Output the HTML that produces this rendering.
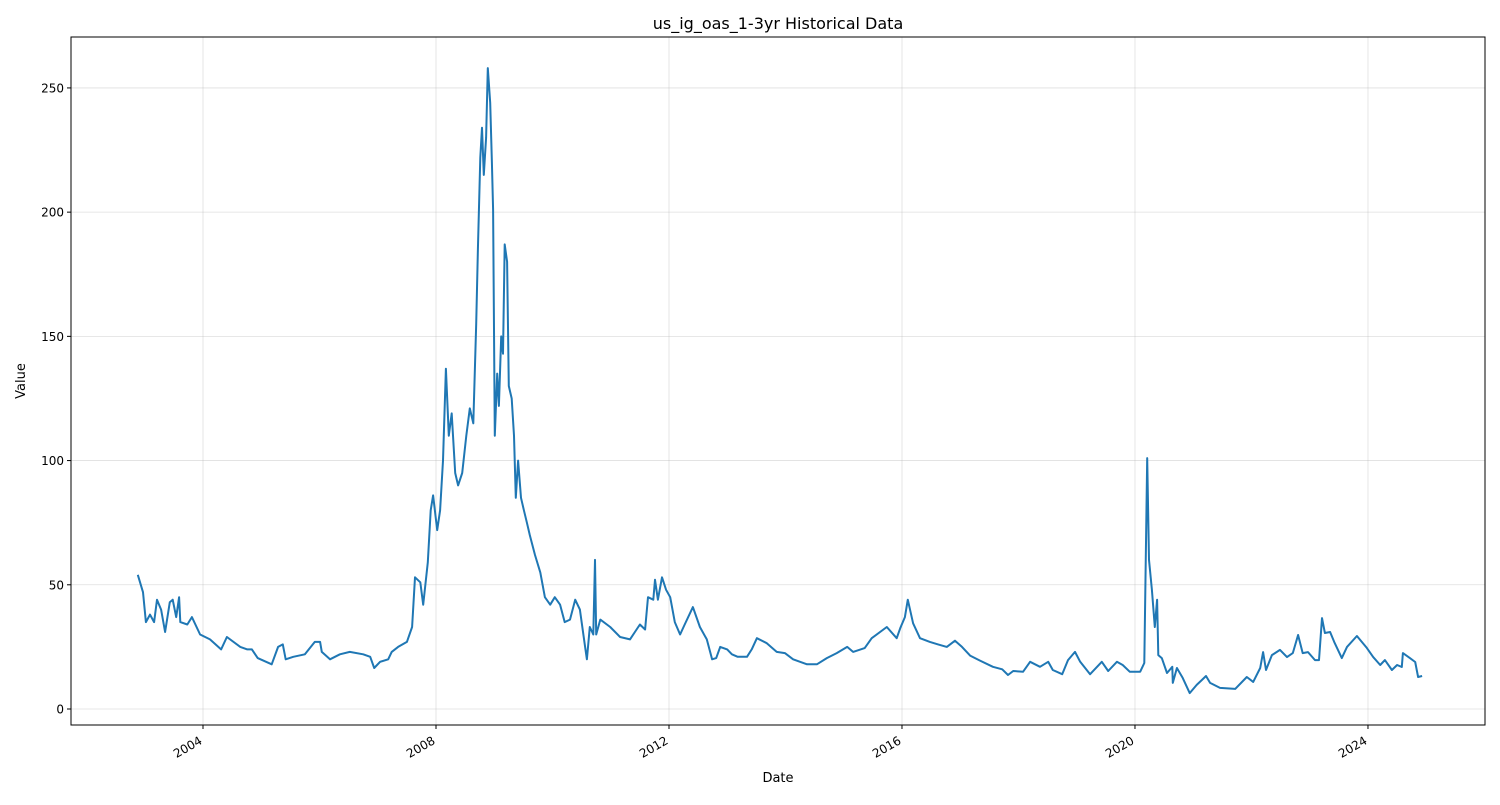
<!DOCTYPE html>
<html><head><meta charset="utf-8"><style>
body{margin:0;background:#fff;font-family:"Liberation Sans","DejaVu Sans",sans-serif;}
svg text{font-family:"DejaVu Sans","Liberation Sans",sans-serif;}
</style></head><body>
<svg id="chart" width="1500" height="800" xmlns="http://www.w3.org/2000/svg">
<rect width="1500" height="800" fill="#fff"/>
<text x="778" y="29" font-size="16" text-anchor="middle">us_ig_oas_1-3yr Historical Data</text>
<text x="778" y="782" font-size="13" text-anchor="middle">Date</text>
<text x="25" y="381" font-size="13" text-anchor="middle" transform="rotate(-90 25 381)">Value</text>
<g id="grid"></g>
<g id="series"></g>
<rect x="71" y="37" width="1414" height="688" fill="none" stroke="#000" stroke-width="1"/>
<g id="ticks"></g>
</svg>
<script>
const dates=[2002.88,2002.97,2003.02,2003.09,2003.16,2003.21,2003.28,2003.35,2003.43,2003.48,2003.54,2003.59,2003.61,2003.73,2003.81,2003.95,2004.12,2004.31,2004.41,2004.64,2004.76,2004.84,2004.94,2005.18,2005.29,2005.37,2005.42,2005.55,2005.75,2005.92,2006.01,2006.04,2006.18,2006.35,2006.52,2006.75,2006.87,2006.94,2007.04,2007.18,2007.24,2007.35,2007.50,2007.59,2007.64,2007.73,2007.78,2007.86,
2007.91,2007.95,2008.02,2008.07,2008.12,2008.17,2008.22,2008.27,2008.33,2008.38,2008.45,2008.52,2008.58,2008.64,2008.69,2008.72,2008.76,2008.79,2008.82,2008.86,2008.89,2008.93,2008.96,2008.98,2009.01,2009.05,2009.08,2009.12,2009.15,2009.18,2009.22,2009.25,2009.30,2009.34,2009.37,2009.41,2009.46,2009.51,2009.56,2009.61,2009.70,2009.79,2009.87,2009.96,2010.04,2010.13,2010.21,2010.30,2010.39,2010.47,2010.56,2010.59,2010.64,2010.70,2010.73,2010.75,2010.82,2010.99,2011.16,2011.33,2011.50,2011.59,2011.64,2011.73,2011.76,2011.81,2011.88,2011.95,2012.02,2012.10,
2012.19,2012.27,2012.41,2012.53,2012.65,2012.74,2012.81,2012.88,2013.00,2013.08,2013.18,2013.34,2013.42,2013.51,2013.68,2013.85,2013.99,2014.13,2014.37,2014.54,2014.71,2014.88,2015.06,2015.16,2015.36,2015.48,2015.74,2015.91,2015.97,2016.05,2016.10,2016.19,2016.31,2016.48,2016.62,2016.77,2016.91,2017.03,2017.17,2017.34,2017.56,2017.72,2017.82,2017.91,2018.08,2018.20,2018.37,2018.51,2018.59,2018.75,2018.85,2018.97,2019.06,2019.23,2019.43,2019.54,2019.69,2019.79,2019.91,
2020.09,2020.16,2020.21,2020.24,2020.29,2020.34,2020.38,2020.40,2020.46,2020.55,2020.64,2020.65,2020.72,2020.82,2020.94,2021.06,2021.15,2021.22,2021.29,2021.46,2021.72,2021.92,2022.03,2022.15,2022.20,2022.25,2022.35,2022.49,2022.61,2022.71,2022.80,2022.88,2022.97,2023.09,2023.16,2023.21,2023.26,2023.35,2023.42,2023.55,2023.64,2023.81,2023.98,2024.09,2024.21,2024.29,2024.41,2024.50,2024.58,2024.60,2024.72,2024.81,2024.86,2024.93];
const values=[54,47,35,38,35,44,40,31,43,44,37,45,35,34,37,30,28,24,29,25,24,24,20.5,18,25,26,20,21,22,27,27,23,20,22,23,22,21,16.5,19,20,23,25,27,33,53,51,42,59,
80,86,72,80,100,137,110,119,95,90,95,110,121,115,155,185,222,234,215,230,258,244,220,201,110,135,122,150,143,187,180,130,125,110,85,100,85,80,75,70,62,55,45,42,45,42,35,36,44,40,25,20,33,30,60,30,36,33,29,28,34,32,45,44,52,44,53,48,45,35,
30,34,41,33,28,20,20.5,25,24,22,21,21,24,28.5,26.5,23,22.5,20,18,18,20.5,22.5,25,23,24.5,28.5,33,28.5,32.5,37,44,34.5,28.5,27,26,25,27.5,25,21.5,19.5,17,16,13.7,15.3,15,19,17,19,15.7,14,19.7,23,19,14,19,15.3,19,17.7,15,
15,18.5,101,60,48,33,44,21.7,20.5,14.5,17,10.5,16.5,12.5,6.4,9.7,11.7,13.3,10.5,8.5,8.1,12.9,10.9,16.5,22.9,15.7,21.7,23.8,20.9,22.5,29.8,22.5,22.9,19.7,19.7,36.6,30.6,31,27,20.5,25,29.4,24.6,20.9,17.7,19.7,15.7,17.7,16.9,22.5,20.5,18.9,12.9,13.3];
const xTicks=[2004,2008,2012,2016,2020,2024];
const xTickLabels=["2004","2008","2012","2016","2020","2024"];
const yTicks=[0,50,100,150,200,250];
const yTickLabels=["0","50","100","150","200","250"];
const L=71,R=1485,T=37,B=725;
const X0=2001.734,X1=2026.009,Y0=-6.44,Y1=270.5;
const xs=v=>L+(v-X0)/(X1-X0)*(R-L);
const ys=v=>B-(v-Y0)/(Y1-Y0)*(B-T);
const NS="http://www.w3.org/2000/svg";
const grid=document.getElementById('grid'),ticks=document.getElementById('ticks'),series=document.getElementById('series');
function mk(tag,attrs){const e=document.createElementNS(NS,tag);for(const k in attrs)e.setAttribute(k,attrs[k]);return e;}
xTicks.forEach((t,i)=>{
  const x=xs(t);
  const g=mk('line',{x1:x,x2:x,y1:T,y2:B,stroke:'#b0b0b0','stroke-opacity':0.4,'stroke-width':0.8});
  
  
  grid.appendChild(g);
  const tk=mk('line',{x1:x,x2:x,y1:B,y2:B+4,stroke:'#000'});
  
  
  ticks.appendChild(tk);
  const tx=mk('text',{x:x,y:B+18,'font-size':12,'text-anchor':'end',transform:`rotate(-30 ${x} ${B+18})`});
  tx.textContent=xTickLabels[i];
  
  
  ticks.appendChild(tx);
});
yTicks.forEach((t,i)=>{
  const y=ys(t);
  const g=mk('line',{x1:L,x2:R,y1:y,y2:y,stroke:'#b0b0b0','stroke-opacity':0.4,'stroke-width':0.8});
  
  
  grid.appendChild(g);
  const tk=mk('line',{x1:L-4,x2:L,y1:y,y2:y,stroke:'#000'});
  
  
  ticks.appendChild(tk);
  const tx=mk('text',{x:L-7,y:y+4.5,'font-size':12,'text-anchor':'end'});
  tx.textContent=yTickLabels[i];
  
  
  ticks.appendChild(tx);
});
const d=dates.map((t,i)=>(i?'L':'M')+xs(t).toFixed(1)+','+ys(values[i]).toFixed(1)).join(' ');
const p=mk('path',{d:d,fill:'none',stroke:'#1f77b4','stroke-width':2,'stroke-linejoin':'round'});


series.appendChild(p);
</script>
</body></html>
